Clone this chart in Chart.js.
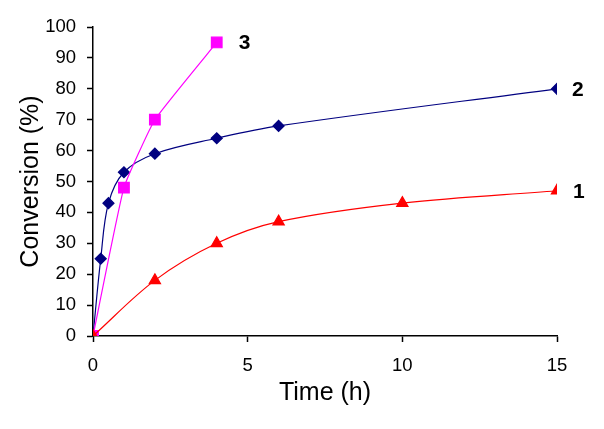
<!DOCTYPE html>
<html>
<head>
<meta charset="utf-8">
<script src="https://cdn.jsdelivr.net/npm/chart.js@4/dist/chart.umd.min.js"></script>
<style>
  html, body { margin: 0; padding: 0; background: #fff; }
  #wrap { width: 604px; height: 429px; }
</style>
</head>
<body>
<div id="wrap"><canvas id="convChart" width="604" height="429"></canvas></div>
<script>
// series 1 (red triangles)
const time1 = [0, 2, 4, 6, 10, 15];
const conv1 = [0, 18, 30, 37, 43, 47];
// series 2 (navy diamonds)
const time2 = [0, 0.25, 0.5, 1, 2, 4, 6, 15];
const conv2 = [0, 25, 43, 53, 59, 64, 68, 80];
// series 3 (magenta squares)
const time3 = [0, 1, 2, 4];
const conv3 = [0, 48, 70, 95];

const seriesNames = ['1', '2', '3'];
const xTicks = [0, 5, 10, 15];

const FONT = 'Arial, "Liberation Sans", sans-serif';

function toPoints(xs, ys) {
    return xs.map((x, i) => ({ x: x, y: ys[i] }));
}

// draws the bold series number next to each curve's last point
const endLabels = {
    id: 'endLabels',
    afterDatasetsDraw(chart) {
        const ctx = chart.ctx;
        ctx.save();
        ctx.font = 'bold 21px ' + FONT;
        ctx.fillStyle = '#000';
        ctx.textBaseline = 'middle';
        ctx.textAlign = 'left';
        chart.data.datasets.forEach((ds, i) => {
            const meta = chart.getDatasetMeta(i);
            const last = meta.data[meta.data.length - 1];
            ctx.fillText(ds.label, last.x + ds.labelGap, last.y + 1);
        });
        ctx.restore();
    }
};

new Chart(document.getElementById('convChart').getContext('2d'), {
    type: 'line',
    data: {
        datasets: [
            {
                label: seriesNames[0],
                data: toPoints(time1, conv1),
                borderColor: '#ff0000',
                backgroundColor: '#ff0000',
                borderWidth: 1.2,
                pointStyle: 'triangle',
                pointRadius: 6.5,
                tension: 0.35,
                labelGap: 16
            },
            {
                label: seriesNames[2],
                data: toPoints(time3, conv3),
                borderColor: '#ff00ff',
                backgroundColor: '#ff00ff',
                borderWidth: 1.2,
                pointStyle: 'rect',
                pointRadius: 7.5,
                tension: 0.12,
                labelGap: 22
            },
            {
                label: seriesNames[1],
                data: toPoints(time2, conv2),
                borderColor: '#000080',
                backgroundColor: '#000080',
                borderWidth: 1.2,
                pointStyle: 'rectRot',
                pointRadius: 5.5,
                tension: 0.35,
                labelGap: 15
            }
        ]
    },
    options: {
        responsive: false,
        animation: false,
        layout: { padding: { top: 27, right: 47, bottom: 0, left: 0 } },
        plugins: {
            legend: { display: false },
            tooltip: { enabled: false }
        },
        scales: {
            x: {
                type: 'linear',
                min: 0,
                max: 15,
                afterFit(scale) { scale.height = 93; },
                afterBuildTicks(scale) { scale.ticks = xTicks.map(v => ({ value: v })); },
                border: { color: '#000', width: 1.5 },
                grid: { drawOnChartArea: false, color: '#000', tickLength: 6, tickWidth: 1.5 },
                ticks: { color: '#000', font: { family: FONT, size: 18.5 }, padding: 13, maxRotation: 0 },
                title: {
                    display: true,
                    text: 'Time (h)',
                    color: '#000',
                    font: { family: FONT, size: 25 },
                    padding: { top: 0, bottom: 21 }
                }
            },
            y: {
                min: 0,
                max: 100,
                afterFit(scale) { scale.width = 93; },
                border: { color: '#000', width: 1.5 },
                grid: { drawOnChartArea: false, color: '#000', tickLength: 6, tickWidth: 1.5 },
                ticks: { stepSize: 10, color: '#000', font: { family: FONT, size: 18.5 }, padding: 11 },
                title: {
                    display: true,
                    text: 'Conversion (%)',
                    color: '#000',
                    font: { family: FONT, size: 25 },
                    padding: { top: 16, bottom: 0 }
                }
            }
        }
    },
    plugins: [endLabels]
});
</script>
</body>
</html>
